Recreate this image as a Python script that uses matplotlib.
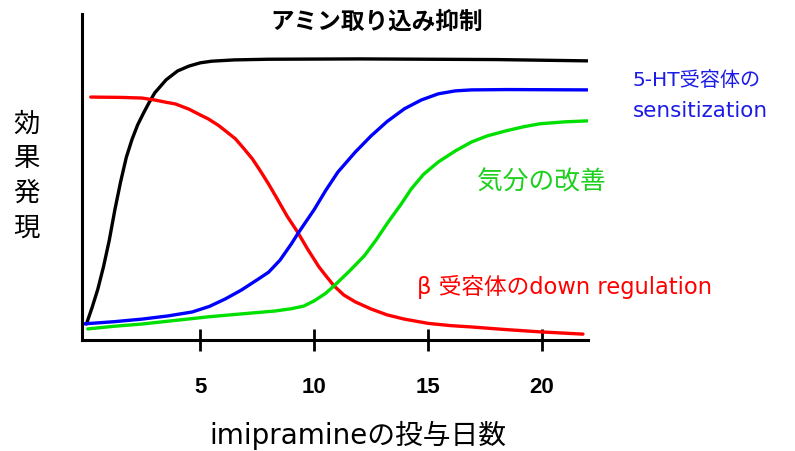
import matplotlib.pyplot as plt

plt.rcParams['font.family'] = ['DejaVu Sans', 'Noto Sans CJK JP']

# values (x = days, y = effect 0..100)
amine_x = [0.0, 0.25, 0.5, 0.75, 1.0, 1.25, 1.5, 1.75, 2.0, 2.25, 2.5, 2.75, 3.0, 3.5, 4.0, 4.5, 5.0, 5.5, 6.5, 8.0, 12.0, 18.0, 22.0]
amine_y = [4.9, 10.0, 15.6, 22.5, 30.5, 40.0, 48.5, 56.0, 61.5, 66.0, 69.5, 72.8, 75.8, 79.8, 82.5, 84.0, 85.0, 85.5, 85.9, 86.1, 86.2, 86.0, 85.6]

beta_x = [0.19, 1.5, 2.44, 3.0, 3.5, 3.9, 4.5, 5.0, 5.35, 5.8, 6.2, 6.54, 6.9, 7.29, 7.65, 8.0, 8.4, 8.8, 9.27, 9.7, 10.2, 10.5, 10.87, 11.3, 11.8, 12.5, 13.2, 13.96, 15.0, 16.0, 16.9, 18.4, 19.9, 21.8]
beta_y = [74.5, 74.4, 74.2, 73.6, 72.9, 72.4, 70.8, 69.0, 67.8, 65.8, 63.6, 61.7, 58.8, 55.5, 51.7, 47.8, 43.0, 38.1, 33.1, 28.0, 22.5, 19.8, 16.6, 13.8, 11.7, 9.5, 7.7, 6.4, 5.1, 4.4, 4.0, 3.2, 2.5, 1.8]

ht_x = [-0.2, 1.2, 2.44, 3.6, 4.65, 5.4, 6.1, 6.8, 7.55, 8.0, 8.5, 9.0, 9.27, 10.0, 10.5, 11.04, 11.8, 12.5, 13.2, 13.96, 14.7, 15.45, 16.2, 16.9, 18.5, 22.0]
ht_y = [4.9, 5.6, 6.4, 7.4, 8.6, 10.3, 12.6, 15.3, 18.7, 20.8, 24.5, 29.5, 32.5, 40.0, 45.8, 51.5, 57.6, 62.6, 67.0, 70.9, 73.6, 75.5, 76.4, 76.7, 76.8, 76.7]

mood_x = [0.06, 1.2, 2.44, 3.9, 5.35, 6.8, 8.3, 9.0, 9.54, 10.0, 10.5, 10.87, 11.5, 12.2, 12.7, 13.25, 13.8, 14.26, 14.8, 15.45, 16.2, 16.9, 17.6, 18.4, 19.2, 19.9, 21.0, 22.0]
mood_y = [3.4, 4.2, 4.9, 6.0, 7.1, 8.0, 8.9, 9.6, 10.4, 12.0, 14.3, 16.6, 20.8, 25.8, 30.5, 36.2, 41.5, 46.3, 50.8, 54.6, 58.0, 60.7, 62.6, 64.1, 65.4, 66.3, 66.9, 67.2]

xticks = [5, 10, 15, 20]

fig = plt.figure(figsize=(7.95, 4.52), dpi=100)
ax = fig.add_axes([0.103, 0.2456, 0.636, 0.7214])

lw = 2.4
ax.plot(amine_x, amine_y, color='black', lw=lw, solid_capstyle='round')
ax.plot(beta_x, beta_y, color='#ff0000', lw=lw, solid_capstyle='round')
ax.plot(ht_x, ht_y, color='#0000ff', lw=lw, solid_capstyle='round')
ax.plot(mood_x, mood_y, color='#00e000', lw=lw, solid_capstyle='round')

ax.set_xlim(-0.2, 22.0)
ax.set_ylim(0, 100)
ax.spines['top'].set_visible(False)
ax.spines['right'].set_visible(False)
ax.spines['left'].set_linewidth(2.2)
ax.spines['bottom'].set_linewidth(2.2)
ax.set_yticks([])
ax.set_xticks(xticks)
ax.set_xticklabels([str(t) for t in xticks], fontsize=16, fontweight='bold',
                   family='Liberation Sans')
ax.tick_params(axis='x', direction='inout', length=16, width=2, pad=18)

ax.set_xlabel('imipramineの投与日数', fontsize=20)
ax.xaxis.set_label_coords(0.545, -0.245)

fig.text(0.474, 0.951, 'アミン取り込み抑制', fontsize=17, fontweight='bold',
         ha='center', va='center', family='Noto Sans CJK JP')
fig.text(0.033, 0.61, '効\n果\n発\n現', fontsize=19, ha='center', va='center',
         linespacing=1.37, family='Noto Sans CJK JP')

fig.text(0.796, 0.823, '5-HT受容体の', fontsize=14.5, color='#1c1ce6',
         ha='left', va='center')
fig.text(0.796, 0.754, 'sensitization', fontsize=15.5, color='#1c1ce6',
         ha='left', va='center')
fig.text(0.600, 0.597, '気分の改善', fontsize=18.5, color='#1ed01e',
         ha='left', va='center', family='Noto Sans CJK JP')
fig.text(0.524, 0.365, 'β 受容体のdown regulation', fontsize=16.3, color='#ff0000',
         ha='left', va='center')

fig.savefig('out.png', dpi=100)
